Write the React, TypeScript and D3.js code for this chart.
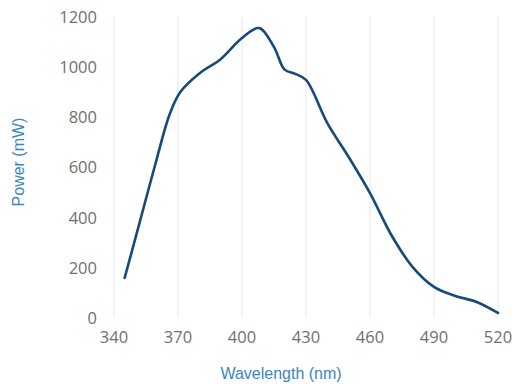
import React from "react";
import * as d3 from "d3";

const wavelengths = [345, 352, 360, 366, 371, 380, 390, 400, 408, 415, 420, 425, 430, 440, 450, 460, 470, 480, 490, 500, 510, 520];
const power = [160, 380, 633, 810, 900, 975, 1032, 1116, 1156, 1080, 990, 973, 949, 777, 642, 498, 331, 203, 124, 88, 64, 20];
const xTicks = [340, 370, 400, 430, 460, 490, 520];
const yTicks = [0, 200, 400, 600, 800, 1000, 1200];

const App = () => {
  const width = 513, height = 385;
  const x = d3.scaleLinear().domain([340, 520]).range([114, 498]);
  const y = d3.scaleLinear().domain([0, 1200]).range([318, 17]);

  const points: [number, number][] = wavelengths.map((w, i) => [w, power[i]]);
  const line = d3.line<[number, number]>()
    .x(d => x(d[0]))
    .y(d => y(d[1]))
    .curve(d3.curveCatmullRom.alpha(0.5));

  const tickFont = "'Open Sans', sans-serif";
  const titleFont = "'Liberation Sans', Arial, sans-serif";

  return (
    <svg width={width} height={height} style={{ position: "absolute", left: 0, top: 0 }}>
      <rect width={width} height={height} fill="#fff" />
      {/* vertical grid */}
      {xTicks.map(t => (
        <line key={t} x1={x(t)} x2={x(t)} y1={y(1200)} y2={y(0)} stroke="#e8e8e8" strokeWidth={1} />
      ))}
      {/* y tick labels */}
      {yTicks.map(t => (
        <text key={t} x={97} y={y(t)} dy="0.36em" textAnchor="end" fontSize={16.5} fill="#6f6f6f" fontFamily={tickFont}>
          {t}
        </text>
      ))}
      {/* x tick labels */}
      {xTicks.map(t => (
        <text key={t} x={x(t)} y={343} textAnchor="middle" fontSize={16.5} fill="#6f6f6f" fontFamily={tickFont}>
          {t}
        </text>
      ))}
      <path d={line(points) || ""} fill="none" stroke="#154a7a" strokeWidth={2.6} strokeLinejoin="round" strokeLinecap="round" />
      <text x={281} y={379} textAnchor="middle" fontSize={16} fill="#3a86c0" fontFamily={titleFont}>
        Wavelength (nm)
      </text>
      <text transform={`translate(24,162) rotate(-90)`} textAnchor="middle" fontSize={16} fill="#3a86c0" fontFamily={titleFont}>
        Power (mW)
      </text>
    </svg>
  );
};

export default App;
